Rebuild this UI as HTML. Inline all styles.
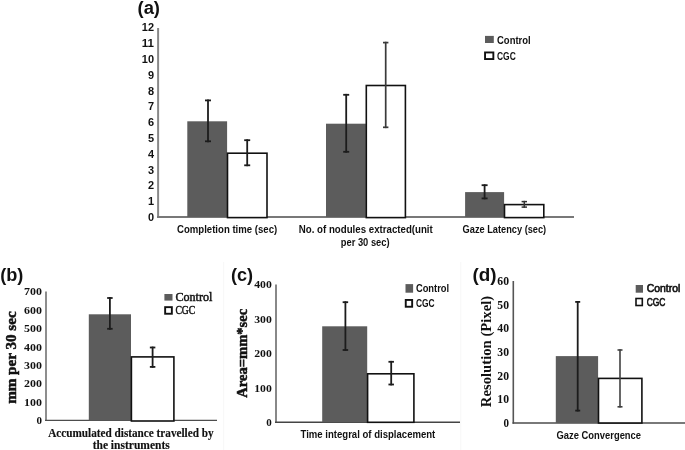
<!DOCTYPE html>
<html><head><meta charset="utf-8"><style>
html,body{margin:0;padding:0;background:#fff;}
svg{display:block;will-change:transform;filter:blur(0.35px);}
</style></head><body>
<svg width="685" height="450" viewBox="0 0 685 450">

<line x1="223.7" y1="262" x2="223.7" y2="450" stroke="#f7f7f7" stroke-width="1"/>
<line x1="460.8" y1="262" x2="460.8" y2="450" stroke="#f7f7f7" stroke-width="1"/>
<text x="137.5" y="14" font-family='"Liberation Sans", sans-serif' font-size="18" font-weight="bold" text-anchor="start" fill="#111" textLength="22.5" lengthAdjust="spacingAndGlyphs" >(a)</text>
<text x="154" y="220.9" font-family='"Liberation Sans", sans-serif' font-size="11" font-weight="bold" text-anchor="end" fill="#111" textLength="6.1" lengthAdjust="spacingAndGlyphs" >0</text>
<text x="154" y="205.11" font-family='"Liberation Sans", sans-serif' font-size="11" font-weight="bold" text-anchor="end" fill="#111" textLength="6.1" lengthAdjust="spacingAndGlyphs" >1</text>
<text x="154" y="189.32" font-family='"Liberation Sans", sans-serif' font-size="11" font-weight="bold" text-anchor="end" fill="#111" textLength="6.1" lengthAdjust="spacingAndGlyphs" >2</text>
<text x="154" y="173.53" font-family='"Liberation Sans", sans-serif' font-size="11" font-weight="bold" text-anchor="end" fill="#111" textLength="6.1" lengthAdjust="spacingAndGlyphs" >3</text>
<text x="154" y="157.74" font-family='"Liberation Sans", sans-serif' font-size="11" font-weight="bold" text-anchor="end" fill="#111" textLength="6.1" lengthAdjust="spacingAndGlyphs" >4</text>
<text x="154" y="141.95000000000002" font-family='"Liberation Sans", sans-serif' font-size="11" font-weight="bold" text-anchor="end" fill="#111" textLength="6.1" lengthAdjust="spacingAndGlyphs" >5</text>
<text x="154" y="126.16000000000001" font-family='"Liberation Sans", sans-serif' font-size="11" font-weight="bold" text-anchor="end" fill="#111" textLength="6.1" lengthAdjust="spacingAndGlyphs" >6</text>
<text x="154" y="110.37" font-family='"Liberation Sans", sans-serif' font-size="11" font-weight="bold" text-anchor="end" fill="#111" textLength="6.1" lengthAdjust="spacingAndGlyphs" >7</text>
<text x="154" y="94.58000000000001" font-family='"Liberation Sans", sans-serif' font-size="11" font-weight="bold" text-anchor="end" fill="#111" textLength="6.1" lengthAdjust="spacingAndGlyphs" >8</text>
<text x="154" y="78.79000000000002" font-family='"Liberation Sans", sans-serif' font-size="11" font-weight="bold" text-anchor="end" fill="#111" textLength="6.1" lengthAdjust="spacingAndGlyphs" >9</text>
<text x="154" y="63.00000000000003" font-family='"Liberation Sans", sans-serif' font-size="11" font-weight="bold" text-anchor="end" fill="#111" textLength="12.2" lengthAdjust="spacingAndGlyphs" >10</text>
<text x="154" y="47.21000000000001" font-family='"Liberation Sans", sans-serif' font-size="11" font-weight="bold" text-anchor="end" fill="#111" textLength="12.2" lengthAdjust="spacingAndGlyphs" >11</text>
<text x="154" y="31.420000000000016" font-family='"Liberation Sans", sans-serif' font-size="11" font-weight="bold" text-anchor="end" fill="#111" textLength="12.2" lengthAdjust="spacingAndGlyphs" >12</text>
<line x1="158.1" y1="28" x2="158.1" y2="218.0" stroke="#888" stroke-width="2"/>
<line x1="157.1" y1="217.0" x2="574" y2="217.0" stroke="#787878" stroke-width="2"/>
<rect x="187.3" y="121.3" width="39.79999999999998" height="95.7" fill="#5c5c5c"/>
<rect x="227.5" y="153.2" width="39.50000000000001" height="64.4" fill="#fff" stroke="#111" stroke-width="1.6"/>
<rect x="326.0" y="123.7" width="39.89999999999998" height="93.3" fill="#5c5c5c"/>
<rect x="366.29999999999995" y="85.5" width="39.1" height="132.1" fill="#fff" stroke="#111" stroke-width="1.6"/>
<rect x="465.1" y="192.1" width="39.0" height="24.900000000000006" fill="#5c5c5c"/>
<rect x="504.5" y="204.6" width="39.29999999999993" height="13.0" fill="#fff" stroke="#111" stroke-width="1.6"/>
<line x1="208.0" y1="99.5" x2="208.0" y2="142.20000000000002" stroke="#1c1c1c" stroke-width="1.8"/>
<line x1="205.0" y1="100.4" x2="211.0" y2="100.4" stroke="#1c1c1c" stroke-width="1.8"/>
<line x1="205.0" y1="141.3" x2="211.0" y2="141.3" stroke="#1c1c1c" stroke-width="1.8"/>
<line x1="247.2" y1="139.29999999999998" x2="247.2" y2="166.20000000000002" stroke="#1c1c1c" stroke-width="1.8"/>
<line x1="244.2" y1="140.2" x2="250.2" y2="140.2" stroke="#1c1c1c" stroke-width="1.8"/>
<line x1="244.2" y1="165.3" x2="250.2" y2="165.3" stroke="#1c1c1c" stroke-width="1.8"/>
<line x1="346.2" y1="93.89999999999999" x2="346.2" y2="152.70000000000002" stroke="#1c1c1c" stroke-width="1.8"/>
<line x1="343.2" y1="94.8" x2="349.2" y2="94.8" stroke="#1c1c1c" stroke-width="1.8"/>
<line x1="343.2" y1="151.8" x2="349.2" y2="151.8" stroke="#1c1c1c" stroke-width="1.8"/>
<line x1="385.7" y1="41.75" x2="385.7" y2="128.15" stroke="#3a3a3a" stroke-width="1.7"/>
<line x1="383.0" y1="42.6" x2="388.4" y2="42.6" stroke="#3a3a3a" stroke-width="1.7"/>
<line x1="383.0" y1="127.3" x2="388.4" y2="127.3" stroke="#3a3a3a" stroke-width="1.7"/>
<line x1="484.6" y1="184.29999999999998" x2="484.6" y2="199.3" stroke="#1c1c1c" stroke-width="1.8"/>
<line x1="481.6" y1="185.2" x2="487.6" y2="185.2" stroke="#1c1c1c" stroke-width="1.8"/>
<line x1="481.6" y1="198.4" x2="487.6" y2="198.4" stroke="#1c1c1c" stroke-width="1.8"/>
<line x1="524.3" y1="200.85" x2="524.3" y2="207.85" stroke="#333" stroke-width="1.5"/>
<line x1="521.5999999999999" y1="201.6" x2="527.0" y2="201.6" stroke="#333" stroke-width="1.5"/>
<line x1="521.5999999999999" y1="207.1" x2="527.0" y2="207.1" stroke="#333" stroke-width="1.5"/>
<rect x="485" y="35.9" width="8.800000000000011" height="7.100000000000001" fill="#5c5c5c"/>
<rect x="485.05" y="52.45" width="8.299999999999988" height="6.6" fill="#fff" stroke="#111" stroke-width="1.9"/>
<text x="497" y="43.6" font-family='"Liberation Sans", sans-serif' font-size="11" font-weight="bold" text-anchor="start" fill="#111" textLength="33.7" lengthAdjust="spacingAndGlyphs" >Control</text>
<text x="497" y="60.3" font-family='"Liberation Sans", sans-serif' font-size="11" font-weight="bold" text-anchor="start" fill="#111" textLength="18.8" lengthAdjust="spacingAndGlyphs" >CGC</text>
<text x="227.1" y="232.8" font-family='"Liberation Sans", sans-serif' font-size="11" font-weight="bold" text-anchor="middle" fill="#111" textLength="100.2" lengthAdjust="spacingAndGlyphs" >Completion time (sec)</text>
<text x="365.8" y="232.8" font-family='"Liberation Sans", sans-serif' font-size="11" font-weight="bold" text-anchor="middle" fill="#111" textLength="134" lengthAdjust="spacingAndGlyphs" >No. of nodules extracted(unit</text>
<text x="365.2" y="246.3" font-family='"Liberation Sans", sans-serif' font-size="11" font-weight="bold" text-anchor="middle" fill="#111" textLength="48.8" lengthAdjust="spacingAndGlyphs" >per 30 sec)</text>
<text x="504.4" y="232.6" font-family='"Liberation Sans", sans-serif' font-size="11" font-weight="bold" text-anchor="middle" fill="#111" textLength="83.6" lengthAdjust="spacingAndGlyphs" >Gaze Latency (sec)</text>
<text x="0.2" y="281" font-family='"Liberation Sans", sans-serif' font-size="18" font-weight="bold" text-anchor="start" fill="#111" textLength="23.2" lengthAdjust="spacingAndGlyphs" >(b)</text>
<text x="42" y="424.29999999999995" font-family='"Liberation Serif", serif' font-size="11.4" font-weight="bold" text-anchor="end" fill="#111" textLength="5.5" lengthAdjust="spacingAndGlyphs" >0</text>
<text x="42" y="405.88571428571424" font-family='"Liberation Serif", serif' font-size="11.4" font-weight="bold" text-anchor="end" fill="#111" textLength="17.9" lengthAdjust="spacingAndGlyphs" >100</text>
<text x="42" y="387.47142857142853" font-family='"Liberation Serif", serif' font-size="11.4" font-weight="bold" text-anchor="end" fill="#111" textLength="17.9" lengthAdjust="spacingAndGlyphs" >200</text>
<text x="42" y="369.0571428571428" font-family='"Liberation Serif", serif' font-size="11.4" font-weight="bold" text-anchor="end" fill="#111" textLength="17.9" lengthAdjust="spacingAndGlyphs" >300</text>
<text x="42" y="350.6428571428571" font-family='"Liberation Serif", serif' font-size="11.4" font-weight="bold" text-anchor="end" fill="#111" textLength="17.9" lengthAdjust="spacingAndGlyphs" >400</text>
<text x="42" y="332.2285714285714" font-family='"Liberation Serif", serif' font-size="11.4" font-weight="bold" text-anchor="end" fill="#111" textLength="17.9" lengthAdjust="spacingAndGlyphs" >500</text>
<text x="42" y="313.8142857142857" font-family='"Liberation Serif", serif' font-size="11.4" font-weight="bold" text-anchor="end" fill="#111" textLength="17.9" lengthAdjust="spacingAndGlyphs" >600</text>
<text x="42" y="295.4" font-family='"Liberation Serif", serif' font-size="11.4" font-weight="bold" text-anchor="end" fill="#111" textLength="17.9" lengthAdjust="spacingAndGlyphs" >700</text>
<line x1="46" y1="291.5" x2="46" y2="421.09999999999997" stroke="#888" stroke-width="1.9"/>
<line x1="45.05" y1="420.4" x2="217" y2="420.4" stroke="#4d4d4d" stroke-width="1.4"/>
<rect x="88.8" y="314.3" width="42.2" height="106.09999999999997" fill="#5c5c5c"/>
<rect x="131.4" y="356.9" width="42.50000000000001" height="64.10000000000002" fill="#fff" stroke="#111" stroke-width="1.6"/>
<line x1="109.9" y1="297.1" x2="109.9" y2="329.7" stroke="#1c1c1c" stroke-width="1.8"/>
<line x1="107.15" y1="298.0" x2="112.65" y2="298.0" stroke="#1c1c1c" stroke-width="1.8"/>
<line x1="107.15" y1="328.8" x2="112.65" y2="328.8" stroke="#1c1c1c" stroke-width="1.8"/>
<line x1="152.6" y1="346.6" x2="152.6" y2="367.79999999999995" stroke="#1c1c1c" stroke-width="1.8"/>
<line x1="149.85" y1="347.5" x2="155.35" y2="347.5" stroke="#1c1c1c" stroke-width="1.8"/>
<line x1="149.85" y1="366.9" x2="155.35" y2="366.9" stroke="#1c1c1c" stroke-width="1.8"/>
<rect x="164.4" y="294" width="8.099999999999994" height="6.600000000000023" fill="#5c5c5c"/>
<rect x="165.14999999999998" y="307.15" width="6.700000000000022" height="6.6" fill="#fff" stroke="#111" stroke-width="1.9"/>
<text x="175.4" y="300.7" font-family='"Liberation Serif", serif' font-size="12" font-weight="normal" text-anchor="start" fill="#111" stroke="#111" stroke-width="0.45" textLength="37" lengthAdjust="spacingAndGlyphs" >Control</text>
<text x="175.4" y="313.6" font-family='"Liberation Serif", serif' font-size="12" font-weight="normal" text-anchor="start" fill="#111" stroke="#111" stroke-width="0.45" textLength="19.9" lengthAdjust="spacingAndGlyphs" >CGC</text>
<text x="130.9" y="436.5" font-family='"Liberation Serif", serif' font-size="12" font-weight="bold" text-anchor="middle" fill="#111" stroke="#111" stroke-width="0.15" textLength="165.4" lengthAdjust="spacingAndGlyphs" >Accumulated distance travelled by</text>
<text x="131.2" y="448.9" font-family='"Liberation Serif", serif' font-size="12" font-weight="bold" text-anchor="middle" fill="#111" stroke="#111" stroke-width="0.15" textLength="77.1" lengthAdjust="spacingAndGlyphs" >the instruments</text>
<text x="0" y="0" font-family='"Liberation Serif", serif' font-size="14" font-weight="bold" text-anchor="middle" fill="#111" stroke="#111" stroke-width="0.5" textLength="92.5" lengthAdjust="spacingAndGlyphs" transform="translate(15.8 357.6) rotate(-90)">mm per 30 sec</text>
<text x="230.9" y="281.4" font-family='"Liberation Sans", sans-serif' font-size="18" font-weight="bold" text-anchor="start" fill="#111" textLength="22.1" lengthAdjust="spacingAndGlyphs" >(c)</text>
<text x="271.8" y="426.2" font-family='"Liberation Serif", serif' font-size="11" font-weight="bold" text-anchor="end" fill="#111" textLength="5.5" lengthAdjust="spacingAndGlyphs" >0</text>
<text x="271.8" y="391.75" font-family='"Liberation Serif", serif' font-size="11" font-weight="bold" text-anchor="end" fill="#111" textLength="17.6" lengthAdjust="spacingAndGlyphs" >100</text>
<text x="271.8" y="357.29999999999995" font-family='"Liberation Serif", serif' font-size="11" font-weight="bold" text-anchor="end" fill="#111" textLength="17.6" lengthAdjust="spacingAndGlyphs" >200</text>
<text x="271.8" y="322.84999999999997" font-family='"Liberation Serif", serif' font-size="11" font-weight="bold" text-anchor="end" fill="#111" textLength="17.6" lengthAdjust="spacingAndGlyphs" >300</text>
<text x="271.8" y="288.4" font-family='"Liberation Serif", serif' font-size="11" font-weight="bold" text-anchor="end" fill="#111" textLength="17.6" lengthAdjust="spacingAndGlyphs" >400</text>
<line x1="276" y1="284.5" x2="276" y2="423.0" stroke="#888" stroke-width="2"/>
<line x1="275.0" y1="422.3" x2="460" y2="422.3" stroke="#444" stroke-width="1.4"/>
<rect x="322.2" y="326.3" width="45.0" height="96.0" fill="#5c5c5c"/>
<rect x="367.59999999999997" y="373.8" width="46.29999999999999" height="48.5" fill="#fff" stroke="#111" stroke-width="1.6"/>
<line x1="345.4" y1="301.3" x2="345.4" y2="350.9" stroke="#1c1c1c" stroke-width="1.8"/>
<line x1="342.65" y1="302.2" x2="348.15" y2="302.2" stroke="#1c1c1c" stroke-width="1.8"/>
<line x1="342.65" y1="350.0" x2="348.15" y2="350.0" stroke="#1c1c1c" stroke-width="1.8"/>
<line x1="391.2" y1="360.90000000000003" x2="391.2" y2="385.4" stroke="#1c1c1c" stroke-width="1.8"/>
<line x1="388.45" y1="361.8" x2="393.95" y2="361.8" stroke="#1c1c1c" stroke-width="1.8"/>
<line x1="388.45" y1="384.5" x2="393.95" y2="384.5" stroke="#1c1c1c" stroke-width="1.8"/>
<rect x="405.5" y="284.1" width="7.600000000000023" height="8.599999999999966" fill="#5c5c5c"/>
<rect x="405.75" y="299.95" width="6.400000000000011" height="6.799999999999988" fill="#fff" stroke="#111" stroke-width="1.9"/>
<text x="415.9" y="291.5" font-family='"Liberation Sans", sans-serif' font-size="10" font-weight="bold" text-anchor="start" fill="#111" textLength="33.2" lengthAdjust="spacingAndGlyphs" >Control</text>
<text x="415.9" y="306.6" font-family='"Liberation Sans", sans-serif' font-size="10" font-weight="bold" text-anchor="start" fill="#111" textLength="18.7" lengthAdjust="spacingAndGlyphs" >CGC</text>
<text x="367.9" y="438.2" font-family='"Liberation Sans", sans-serif' font-size="10.5" font-weight="bold" text-anchor="middle" fill="#111" textLength="134.8" lengthAdjust="spacingAndGlyphs" >Time integral of displacement</text>
<text x="0" y="0" font-family='"Liberation Serif", serif' font-size="15" font-weight="bold" text-anchor="middle" fill="#111" stroke="#111" stroke-width="0.5" textLength="88.9" lengthAdjust="spacingAndGlyphs" transform="translate(246.8 353.3) rotate(-90)">Area=mm*sec</text>
<text x="472.4" y="281.1" font-family='"Liberation Sans", sans-serif' font-size="18" font-weight="bold" text-anchor="start" fill="#111" textLength="24.1" lengthAdjust="spacingAndGlyphs" >(d)</text>
<text x="509.0" y="427.1" font-family='"Liberation Serif", serif' font-size="12" font-weight="bold" text-anchor="end" fill="#111" textLength="5.5" lengthAdjust="spacingAndGlyphs" >0</text>
<text x="509.0" y="403.43333333333334" font-family='"Liberation Serif", serif' font-size="12" font-weight="bold" text-anchor="end" fill="#111" textLength="11.7" lengthAdjust="spacingAndGlyphs" >10</text>
<text x="509.0" y="379.7666666666667" font-family='"Liberation Serif", serif' font-size="12" font-weight="bold" text-anchor="end" fill="#111" textLength="11.7" lengthAdjust="spacingAndGlyphs" >20</text>
<text x="509.0" y="356.1" font-family='"Liberation Serif", serif' font-size="12" font-weight="bold" text-anchor="end" fill="#111" textLength="11.7" lengthAdjust="spacingAndGlyphs" >30</text>
<text x="509.0" y="332.43333333333334" font-family='"Liberation Serif", serif' font-size="12" font-weight="bold" text-anchor="end" fill="#111" textLength="11.7" lengthAdjust="spacingAndGlyphs" >40</text>
<text x="509.0" y="308.76666666666665" font-family='"Liberation Serif", serif' font-size="12" font-weight="bold" text-anchor="end" fill="#111" textLength="11.7" lengthAdjust="spacingAndGlyphs" >50</text>
<text x="509.0" y="285.1" font-family='"Liberation Serif", serif' font-size="12" font-weight="bold" text-anchor="end" fill="#111" textLength="11.7" lengthAdjust="spacingAndGlyphs" >60</text>
<line x1="513.3" y1="281" x2="513.3" y2="423.7" stroke="#555" stroke-width="1.6"/>
<line x1="512.5" y1="423.0" x2="685" y2="423.0" stroke="#4d4d4d" stroke-width="1.4"/>
<rect x="555.8" y="356.1" width="42.30000000000007" height="66.89999999999998" fill="#5c5c5c"/>
<rect x="598.5" y="378.4" width="43.399999999999956" height="44.60000000000002" fill="#fff" stroke="#111" stroke-width="1.6"/>
<line x1="577.7" y1="301.0" x2="577.7" y2="411.5" stroke="#1c1c1c" stroke-width="1.8"/>
<line x1="575.2" y1="301.9" x2="580.2" y2="301.9" stroke="#1c1c1c" stroke-width="1.8"/>
<line x1="575.2" y1="410.6" x2="580.2" y2="410.6" stroke="#1c1c1c" stroke-width="1.8"/>
<line x1="620.0" y1="349.2" x2="620.0" y2="407.6" stroke="#404040" stroke-width="1.6"/>
<line x1="617.5" y1="350.0" x2="622.5" y2="350.0" stroke="#404040" stroke-width="1.6"/>
<line x1="617.5" y1="406.8" x2="622.5" y2="406.8" stroke="#404040" stroke-width="1.6"/>
<rect x="635.7" y="285" width="7.2999999999999545" height="7.699999999999989" fill="#5c5c5c"/>
<rect x="636.0" y="298.5" width="6.299999999999978" height="7.000000000000023" fill="#fff" stroke="#111" stroke-width="1.6"/>
<text x="646.7" y="292.4" font-family='"Liberation Sans", sans-serif' font-size="10.5" font-weight="normal" text-anchor="start" fill="#111" stroke="#111" stroke-width="0.6" textLength="33.7" lengthAdjust="spacingAndGlyphs" >Control</text>
<text x="646.7" y="306.0" font-family='"Liberation Sans", sans-serif' font-size="10.5" font-weight="normal" text-anchor="start" fill="#111" stroke="#111" stroke-width="0.6" textLength="18.8" lengthAdjust="spacingAndGlyphs" >CGC</text>
<text x="598.8" y="438.6" font-family='"Liberation Sans", sans-serif' font-size="10.5" font-weight="bold" text-anchor="middle" fill="#111" textLength="84.5" lengthAdjust="spacingAndGlyphs" >Gaze Convergence</text>
<text x="0" y="0" font-family='"Liberation Serif", serif' font-size="15" font-weight="bold" text-anchor="middle" fill="#111" textLength="111.3" lengthAdjust="spacingAndGlyphs" transform="translate(490.8 351.5) rotate(-90)">Resolution (Pixel)</text>
</svg>
</body></html>
